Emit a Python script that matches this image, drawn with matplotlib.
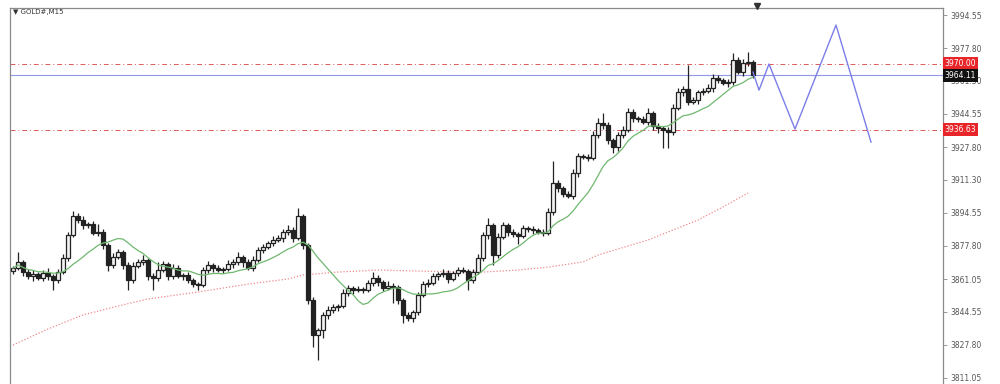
import numpy as np
import pandas as pd
import matplotlib
matplotlib.use("Agg")
import matplotlib.pyplot as plt
import matplotlib.transforms as mtransforms

# ---------------- data ----------------
symbol_label = "▼ GOLD#,M15"

first_open = 3865.0
closes = [3866.6, 3869.7, 3864.6, 3862.6, 3863.6, 3861.6, 3864.1, 3862.6, 3860.6, 3864.6,
          3871.7, 3883.3, 3892.9, 3890.9, 3888.4, 3888.9, 3884.3, 3884.8, 3878.3, 3868.2,
          3872.2, 3874.7, 3868.2, 3860.6, 3867.6, 3869.7, 3870.7, 3862.6, 3861.6, 3865.6,
          3868.7, 3862.6, 3866.6, 3862.6, 3863.1, 3860.6, 3858.5, 3858.0, 3865.6, 3868.2,
          3866.6, 3865.6, 3866.1, 3868.7, 3869.7, 3872.2, 3869.7, 3866.6, 3870.7, 3875.7,
          3877.3, 3879.3, 3880.8, 3881.8, 3884.8, 3885.9, 3881.8, 3892.9, 3878.3, 3850.5,
          3832.8, 3835.3, 3842.9, 3845.4, 3846.9, 3847.4, 3854.0, 3856.5, 3855.5, 3856.0,
          3855.5, 3859.1, 3861.6, 3859.6, 3856.5, 3857.5, 3857.0, 3850.5, 3842.9, 3841.4,
          3844.4, 3853.0, 3858.5, 3859.1, 3862.6, 3863.6, 3864.1, 3861.1, 3864.1, 3865.6,
          3865.1, 3860.6, 3864.6, 3871.7, 3883.3, 3888.4, 3873.2, 3882.3, 3888.4, 3884.8,
          3883.8, 3882.8, 3886.9, 3886.4, 3885.9, 3884.8, 3884.3, 3895.0, 3909.6, 3907.1,
          3904.1, 3903.0, 3914.7, 3923.3, 3922.8, 3922.3, 3933.9, 3940.0, 3938.9, 3931.4,
          3927.8, 3933.9, 3936.4, 3945.5, 3942.5, 3942.0, 3940.5, 3945.0, 3938.4, 3937.4,
          3936.4, 3935.4, 3947.5, 3955.6, 3957.1, 3950.6, 3951.6, 3955.6, 3956.1, 3957.6,
          3962.7, 3961.7, 3960.2, 3960.7, 3971.8, 3965.7, 3970.3, 3970.8, 3964.1]

upper_wicks = [1.2, 5.0, 1.0, 1.5, 2.0, 1.0, 1.5, 2.5, 1.0, 1.5,
               2.0, 1.5, 2.5, 1.5, 2.0, 1.0, 1.5, 4.0, 1.5, 1.0,
               2.0, 1.5, 1.0, 1.5, 2.0, 1.5, 2.5, 1.0, 1.5, 4.0,
               1.5, 1.0, 2.0, 1.5, 1.0, 1.5, 1.0, 1.0, 1.5, 2.0,
               1.0, 1.5, 1.0, 2.0, 1.5, 2.5, 1.0, 1.5, 2.0, 1.5,
               1.5, 1.0, 2.0, 1.5, 1.5, 2.5, 1.5, 4.0, 1.0, 1.0,
               1.5, 1.0, 1.5, 2.0, 1.5, 1.0, 2.0, 1.5, 1.0, 1.5,
               1.0, 1.5, 3.0, 1.5, 1.0, 2.5, 1.5, 1.0, 1.0, 1.5,
               1.0, 1.5, 1.5, 2.0, 1.5, 1.0, 2.0, 1.5, 1.0, 1.5,
               1.5, 1.0, 1.5, 2.0, 1.5, 3.5, 1.0, 2.0, 1.5, 1.0,
               1.5, 1.0, 1.5, 1.0, 1.5, 1.0, 1.5, 2.0, 11.0, 1.5,
               1.0, 1.5, 2.0, 1.5, 1.0, 1.5, 2.0, 2.5, 5.0, 1.5,
               1.0, 1.5, 2.0, 2.0, 1.5, 1.0, 1.5, 2.5, 1.0, 1.5,
               1.0, 1.5, 2.0, 2.0, 1.5, 12.0, 1.5, 1.0, 1.5, 2.0,
               2.0, 1.5, 1.0, 1.5, 3.5, 1.5, 2.0, 5.0, 1.0]

lower_wicks = [1.5, 1.0, 2.0, 1.5, 2.5, 1.0, 1.5, 2.0, 5.0, 1.5,
               1.0, 1.5, 1.0, 1.5, 2.0, 1.5, 1.0, 1.5, 2.0, 3.0,
               1.5, 1.0, 2.0, 5.0, 1.5, 1.0, 1.5, 2.0, 6.0, 1.5,
               1.0, 2.0, 1.5, 1.0, 2.0, 1.5, 1.5, 2.5, 1.0, 1.5,
               2.0, 1.0, 1.5, 1.0, 2.0, 1.5, 2.5, 1.0, 1.5, 1.0,
               1.5, 1.0, 1.5, 1.0, 2.0, 1.5, 2.0, 1.0, 2.0, 2.0,
               6.0, 12.7, 4.0, 2.0, 1.5, 2.0, 1.0, 1.5, 2.0, 1.0,
               1.5, 1.0, 1.5, 2.0, 1.5, 1.0, 8.0, 2.0, 4.0, 1.5,
               2.0, 1.5, 1.0, 1.5, 1.0, 2.0, 1.5, 2.0, 1.0, 1.5,
               1.0, 5.0, 1.5, 1.0, 1.5, 2.0, 5.0, 1.5, 1.0, 2.0,
               1.5, 4.0, 1.0, 1.5, 2.0, 1.0, 1.5, 1.0, 1.5, 2.0,
               1.5, 1.0, 1.5, 2.0, 1.0, 1.5, 1.0, 1.5, 2.0, 2.0,
               3.0, 2.0, 1.5, 1.0, 2.0, 1.5, 1.0, 1.5, 2.0, 2.5,
               9.0, 8.0, 1.5, 1.0, 2.0, 1.5, 1.0, 2.0, 1.5, 1.0,
               2.0, 1.5, 1.0, 2.0, 1.5, 1.0, 2.0, 1.5, 1.5]

fast_ma_period = 12

slow_ma_idx = [0, 7, 14, 21, 27, 37, 47, 55, 58, 65, 73, 81, 89, 94, 101, 107,
               114, 117, 127, 137, 142, 147]
slow_ma_vals = [3827.7, 3835.8, 3842.9, 3847.4, 3851.0, 3854.5, 3858.5, 3861.1,
                3863.1, 3864.6, 3865.6, 3865.1, 3864.6, 3864.6, 3865.6, 3867.1,
                3869.7, 3873.2, 3880.8, 3890.9, 3897.5, 3904.6]

proj_idx = [148, 149.2, 151.2, 156.4, 164.6, 171.6]
proj_vals = [3965.7, 3956.6, 3969.8, 3936.9, 3989.5, 3930.3]

level_upper = 3970.00
level_lower = 3936.63
level_bid = 3964.11
level_upper_label = "3970.00"
level_lower_label = "3936.63"
level_bid_label = "3964.11"

tick_values = [3994.55, 3977.80, 3961.30, 3944.55, 3927.80, 3911.30,
               3894.55, 3877.80, 3861.05, 3844.55, 3827.80, 3811.05]
tick_labels = ["3994.55", "3977.80", "3961.30", "3944.55", "3927.80", "3911.30",
               "3894.55", "3877.80", "3861.05", "3844.55", "3827.80", "3811.05"]

# ---------------- figure ----------------
plt.rcParams['font.family'] = ['DejaVu Sans']
fig = plt.figure(figsize=(10, 3.84), dpi=100)
ax = fig.add_axes([0.010, 0.0, 0.933, 0.979])
ax.set_xlim(-0.6, 186.0)
ax.set_ylim(3807.98, 3998.09)

closes_arr = np.array(closes)
opens_arr = np.concatenate([[first_open], closes_arr[:-1]])
highs = np.maximum(opens_arr, closes_arr) + np.array(upper_wicks)
lows = np.minimum(opens_arr, closes_arr) - np.array(lower_wicks)
idx = np.arange(len(closes_arr))

# slow MA (red dotted)
ax.plot(slow_ma_idx, slow_ma_vals, color='#f08a8a', lw=0.9, ls=(0, (1, 1.5)), zorder=1)

# horizontal levels
dash = (0, (5, 3, 1, 3))
ax.axhline(level_upper, color='#e05a5a', lw=0.7, ls=dash, zorder=1)
ax.axhline(level_lower, color='#e05a5a', lw=0.7, ls=dash, zorder=1)
ax.axhline(level_bid, color='#8e98e6', lw=0.8, zorder=1)

# candles
ax.vlines(idx, lows, highs, color='#222222', lw=0.9, zorder=2)
body_bottom = np.minimum(opens_arr, closes_arr)
body_height = np.abs(closes_arr - opens_arr)
body_height = np.maximum(body_height, 0.35)
bull = closes_arr >= opens_arr
ax.bar(idx[bull], body_height[bull], bottom=body_bottom[bull], width=0.7,
       facecolor='#f2f2f2', edgecolor='#222222', linewidth=0.9, zorder=3)
ax.bar(idx[~bull], body_height[~bull], bottom=body_bottom[~bull], width=0.7,
       facecolor='#222222', edgecolor='#222222', linewidth=0.9, zorder=3)

# fast MA (green)
fast_ma = pd.Series(closes_arr).rolling(fast_ma_period, min_periods=1).mean()
ax.plot(idx, fast_ma, color='#6fb86f', lw=0.9, zorder=4)

# projection (blue zigzag)
ax.plot(proj_idx, proj_vals, color='#7b7ee8', lw=1.0, zorder=4)

# axes styling
for s in ['left', 'top', 'right']:
    ax.spines[s].set_color('#8a8a8a')
    ax.spines[s].set_linewidth(0.9)
ax.spines['bottom'].set_visible(False)
ax.set_xticks([])
ax.yaxis.tick_right()
ax.set_yticks(tick_values)
ax.set_yticklabels(tick_labels)
ax.tick_params(axis='y', direction='out', length=3, width=0.6, color='#8a8a8a',
               labelsize=5.5, labelcolor='#555555', pad=2)

# price labels on the right axis
trans = mtransforms.blended_transform_factory(ax.transAxes, ax.transData)
box_kw = dict(edgecolor='none', pad=0.25, boxstyle='square')
ax.text(1.002, level_upper, level_upper_label, transform=trans, ha='left', va='center',
        fontsize=5.5, color='white', zorder=10, clip_on=False,
        bbox=dict(facecolor='#e8262a', **box_kw))
ax.text(1.002, level_bid, level_bid_label, transform=trans, ha='left', va='center',
        fontsize=5.5, color='white', zorder=10, clip_on=False,
        bbox=dict(facecolor='#111111', **box_kw))
ax.text(1.002, level_lower, level_lower_label, transform=trans, ha='left', va='center',
        fontsize=5.5, color='white', zorder=10, clip_on=False,
        bbox=dict(facecolor='#e8262a', **box_kw))

# symbol caption and shift marker
fig.text(0.013, 1 - 12 / 384, symbol_label, fontsize=5, color='#333333',
         ha='left', va='center')
ax.plot([148.8], [3998.9], marker='v', color='#333333', markersize=5,
        clip_on=False, zorder=10)

fig.savefig("out.png", dpi=100, facecolor='white')
